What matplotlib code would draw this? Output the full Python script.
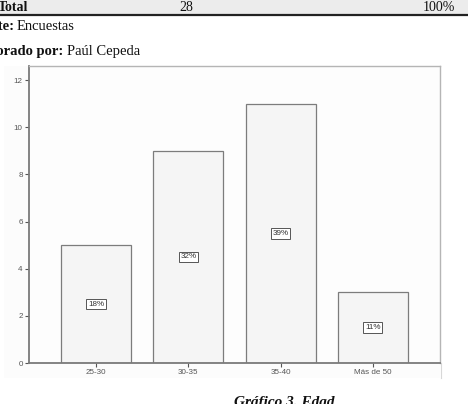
import matplotlib.pyplot as plt
import matplotlib.patches as patches
from matplotlib.lines import Line2D

# data
categories = ['25-30', '30-35', '35-40', 'Más de 50']
counts = [5, 9, 11, 3]
pct_labels = ['18%', '32%', '39%', '11%']
total_count = '28'
total_pct = '100%'
y_ticks = [0, 2, 4, 6, 8, 10, 12]

W, H = 468, 404


def fx(px):
    return px / W


def fy(py):
    return 1 - py / H


fig = plt.figure(figsize=(W / 100, H / 100), dpi=100)
fig.patch.set_facecolor('white')

serif = 'Liberation Serif'
sans = 'Liberation Sans'

# table row at the top of the page
fig.add_artist(patches.Rectangle((0, fy(14)), 1, 14 / H, transform=fig.transFigure,
                                 facecolor='#ececec', edgecolor='none', zorder=-2))
fig.add_artist(Line2D([0, 1], [fy(15), fy(15)], transform=fig.transFigure,
                      color='#222222', linewidth=1.6))
fig.text(fx(-2), fy(11), 'Total', family=serif, weight='bold', fontsize=10, color='#111111')
fig.text(fx(186), fy(11), total_count, family=serif, fontsize=10, ha='center', color='#111111')
fig.text(fx(455), fy(11), total_pct, family=serif, fontsize=10, ha='right', color='#111111')

# source lines
fig.text(fx(15), fy(30), 'Fuente:', family=serif, weight='bold', fontsize=10.5, ha='right', color='#111111')
fig.text(fx(17), fy(30), 'Encuestas', family=serif, fontsize=10.5, color='#111111')
fig.text(fx(63), fy(55), 'Elaborado por:', family=serif, weight='bold', fontsize=10.5, ha='right', color='#111111')
fig.text(fx(67), fy(55), 'Paúl Cepeda', family=serif, fontsize=10.5, color='#111111')

# chart image background
fig.add_artist(patches.Rectangle((fx(4), fy(378)), fx(436), (378 - 66) / H, transform=fig.transFigure,
                                 facecolor='#fcfcfc', edgecolor='none', zorder=-2))
fig.add_artist(Line2D([fx(440.5), fx(440.5)], [fy(363), fy(378)], transform=fig.transFigure,
                      color='#d8d8d8', linewidth=0.8, zorder=-1))

ax = fig.add_axes([fx(29), fy(363), (440 - 29) / W, (363 - 66) / H])
ax.set_facecolor('#fdfdfd')

x = list(range(len(categories)))
bars = ax.bar(x, counts, width=0.76, color='#f5f5f5', edgecolor='#7c7c7c', linewidth=0.9)

for xi, c, lab in zip(x, counts, pct_labels):
    ax.text(xi, c / 2, lab, ha='center', va='center', family=sans, fontsize=5.8, color='#333333',
            bbox=dict(boxstyle='square,pad=0.22', facecolor='white', edgecolor='#555555', linewidth=0.7))

ax.set_xlim(-0.726, 3.726)
ax.set_ylim(0, 12.6)
ax.set_yticks(y_ticks)
ax.set_yticklabels([str(t) for t in y_ticks])
ax.set_xticks(x)
ax.set_xticklabels(categories)
ax.tick_params(axis='both', labelsize=5.8, colors='#555555', length=3, width=0.8, pad=1.5)
for lbl in ax.get_xticklabels() + ax.get_yticklabels():
    lbl.set_family(sans)

for side in ['left', 'bottom']:
    ax.spines[side].set_color('#7a7a7a')
    ax.spines[side].set_linewidth(1.3)
for side in ['top', 'right']:
    ax.spines[side].set_color('#b5b5b5')
    ax.spines[side].set_linewidth(1.0)

fig.text(fx(284), fy(406), 'Gráfico 3. Edad', family=serif, weight='bold', style='italic',
         fontsize=11, ha='center', va='baseline', color='#111111')

fig.savefig('out.png', dpi=100)
